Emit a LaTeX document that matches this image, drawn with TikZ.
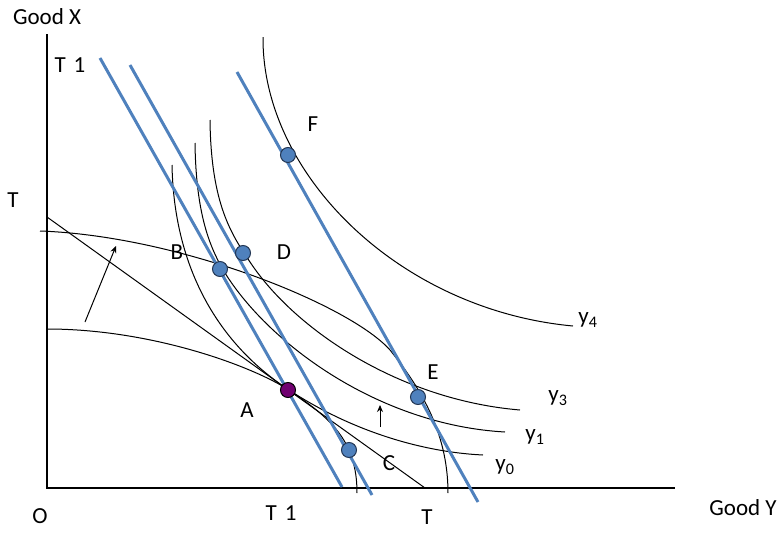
\documentclass[tikz,border=0pt]{standalone}
\usepackage{fontspec}
\setmainfont{Carlito}
\usetikzlibrary{arrows.meta}
\definecolor{lineblue}{RGB}{79,129,189}
\definecolor{dotedge}{RGB}{35,55,85}
\definecolor{apurple}{RGB}{112,0,112}
\begin{document}
\begin{tikzpicture}[x=1pt,y=-1pt,
  curve/.style={black, line width=1pt},
  axisline/.style={black, line width=2pt},
  budget/.style={lineblue, line width=3pt},
  dot/.style={circle, fill=lineblue, draw=dotedge, line width=1pt, minimum size=15pt, inner sep=0pt},
  pdot/.style={dot, fill=apurple, draw=black},
  lab/.style={font=\fontsize{23}{27}\selectfont, inner sep=0pt},
  shiftarrow/.style={black, line width=1pt, -{Stealth[length=7pt,width=6pt]}}]
\useasboundingbox (0,0) rectangle (780,533);

% axes
\coordinate (Ytop) at (47,34);
\coordinate (Xend) at (675,488);
\draw[axisline] (Ytop) |- (Xend);

% straight line T-T
\coordinate (TTs) at (47,217);
\coordinate (TTe) at (425,488);
\draw[curve] (TTs) -- (TTe);

% production possibility curves
\draw[curve] (40,231) .. controls (180,236) and (350,305) .. (390,350)
                      .. controls (418,385) and (448,430) .. (448,493);
\draw[curve] (47,329) .. controls (150,329) and (250,365) .. (289,390)
                      .. controls (330,418) and (357,440) .. (357,493);

% indifference curves
\draw[curve] (263,37) .. controls (262,175) and (400,310) .. (573,326);
\draw[curve] (210,120) .. controls (211,205) and (232,235) .. (250,262)
                       .. controls (295,330) and (400,400) .. (520,410);
\draw[curve] (195,143) .. controls (196,215) and (210,248) .. (225,273)
                       .. controls (270,345) and (380,425) .. (505,432);
\draw[curve] (172,165) .. controls (174,270) and (220,345) .. (289,390)
                       .. controls (350,430) and (420,452) .. (483,455);

% price lines
\coordinate (b1s) at (100,58);  \coordinate (b1e) at (342,487);
\coordinate (b2s) at (130,65);  \coordinate (b2e) at (372,495);
\coordinate (b3s) at (237,72);  \coordinate (b3e) at (478,502);
\draw[budget] (b1s) -- (b1e);
\draw[budget] (b2s) -- (b2e);
\draw[budget] (b3s) -- (b3e);

% shift arrows
\coordinate (a1s) at (85,322);  \coordinate (a1e) at (116,246);
\coordinate (a2s) at (380,427); \coordinate (a2e) at (380,405);
\draw[shiftarrow] (a1s) -- (a1e);
\draw[shiftarrow] (a2s) -- (a2e);

% points
\node[dot] (F) at (288,155) {};
\node[dot] (D) at (243,253) {};
\node[dot] (B) at (220,269) {};
\node[dot] (E) at (418,397) {};
\node[dot] (C) at (349,450) {};
\node[pdot] (A) at (288,390) {};

% labels
\node[lab] (lGX) at (47,17) {Good X};
\node[lab] (lGY) at (743,508) {Good Y};
\node[lab] (lT1a) at (70,65) {T\hspace{8pt}1};
\node[lab] (lT1b) at (281,513) {T\hspace{8pt}1};
\node[lab] (lTa) at (13,200) {T};
\node[lab] (lTb) at (427,517) {T};
\node[lab] (lO) at (40,516) {O};
\node[lab] (lF) at (313,124) {F};
\node[lab] (lB) at (177,252) {B};
\node[lab] (lD) at (284,252) {D};
\node[lab] (lA) at (247,410) {A};
\node[lab] (lE) at (433,372) {E};
\node[lab] (lC) at (389,463) {C};
\node[lab] (ly4) at (588,320) {y\textsubscript{4}};
\node[lab] (ly3) at (558,398) {y\textsubscript{3}};
\node[lab] (ly1) at (535,437) {y\textsubscript{1}};
\node[lab] (ly0) at (505,467) {y\textsubscript{0}};
\end{tikzpicture}
\end{document}
